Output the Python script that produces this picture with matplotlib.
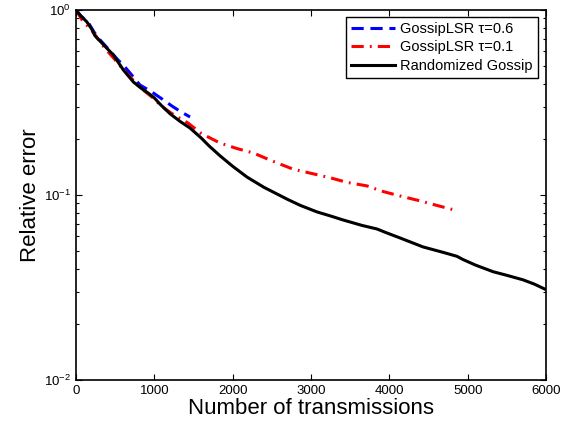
import matplotlib
matplotlib.use("Agg")
import matplotlib.pyplot as plt
from matplotlib.ticker import LogLocator, FixedLocator

plt.rcParams['font.family'] = ['Liberation Sans', 'DejaVu Sans']
plt.rcParams['mathtext.fontset'] = 'custom'
plt.rcParams['mathtext.rm'] = 'Liberation Sans'

# GossipLSR tau=0.6
lsr06_x = [0, 60, 153, 230, 306, 420, 536, 610, 689, 817, 900, 970, 1100, 1238, 1350, 1456]
lsr06_y = [1.0, 0.93, 0.86, 0.76, 0.69, 0.61, 0.537, 0.50, 0.457, 0.393, 0.375, 0.36, 0.33, 0.30, 0.28, 0.264]

# GossipLSR tau=0.1
lsr01_x = [0, 80, 217, 300, 370, 480, 587, 700, 855, 983, 1100, 1200, 1290, 1430, 1600, 1838,
           2060, 2260, 2500, 2770, 3000, 3243, 3460, 3715, 3900, 4136, 4391, 4600, 4877]
lsr01_y = [1.0, 0.88, 0.76, 0.68, 0.62, 0.55, 0.486, 0.43, 0.37, 0.335, 0.30, 0.28, 0.265, 0.245, 0.215, 0.191,
           0.178, 0.169, 0.153, 0.138, 0.131, 0.124, 0.117, 0.112, 0.105, 0.0988, 0.093, 0.088, 0.082]

# Randomized Gossip
rg_x = [0, 60, 136, 200, 243, 350, 477, 605, 733, 830, 920, 1000, 1072, 1200, 1328, 1456,
        1600, 1700, 1838, 2000, 2183, 2400, 2694, 2860, 3077, 3250, 3409, 3650, 3843, 3950,
        4136, 4430, 4700, 4864, 4940, 5100, 5324, 5500, 5706, 5850, 6000]
rg_y = [1.0, 0.93, 0.865, 0.79, 0.725, 0.65, 0.571, 0.474, 0.408, 0.378, 0.356, 0.335, 0.31, 0.275, 0.25, 0.23,
        0.203, 0.184, 0.163, 0.143, 0.125, 0.11, 0.095, 0.088, 0.081, 0.077, 0.0733, 0.0685, 0.0655, 0.0628,
        0.0586, 0.0524, 0.0488, 0.0466, 0.0448, 0.0418, 0.0385, 0.0368, 0.0348, 0.0330, 0.0308]

labels = ['GossipLSR \u03c4=0.6', 'GossipLSR \u03c4=0.1', 'Randomized Gossip']

fig = plt.figure(figsize=(5.74, 4.32), dpi=100)
ax = fig.add_axes([76/574, 52/432, 470/574, 370/432])

ax.plot(lsr06_x, lsr06_y, color='#0000ff', linestyle=(0, (4, 2.2)), linewidth=2.2, label=labels[0])
ax.plot(lsr01_x, lsr01_y, color='#ff0000', linestyle=(0, (4, 2, 0.6, 2)), linewidth=2.2, label=labels[1])
ax.plot(rg_x, rg_y, color='black', linestyle='-', linewidth=2.2, label=labels[2])

ax.set_yscale('log')
ax.set_xlim(0, 6000)
ax.set_ylim(1e-2, 1e0)
ax.set_xticks([0, 1000, 2000, 3000, 4000, 5000, 6000])
ax.yaxis.set_major_locator(FixedLocator([1e-2, 1e-1, 1e0]))
ax.yaxis.set_minor_locator(LogLocator(base=10, subs=range(2, 10)))

ax.tick_params(which='both', direction='in', top=True, right=True, labelsize=9.5, width=0.8)
ax.tick_params(which='major', length=4)
ax.tick_params(which='minor', length=2.5)
for sp in ax.spines.values():
    sp.set_linewidth(1.2)

ax.set_xlabel('Number of transmissions', fontsize=16, labelpad=1)
ax.set_ylabel('Relative error', fontsize=16, labelpad=2)

leg = ax.legend(loc='upper right', bbox_to_anchor=(538/574, 415/432), bbox_transform=fig.transFigure,
                fontsize=10.5, handlelength=3.0, handletextpad=0.4, borderpad=0.35, labelspacing=0.3,
                fancybox=False, framealpha=1, edgecolor='black', borderaxespad=0)
leg.get_frame().set_linewidth(1.0)

fig.savefig('out.png', dpi=100)
